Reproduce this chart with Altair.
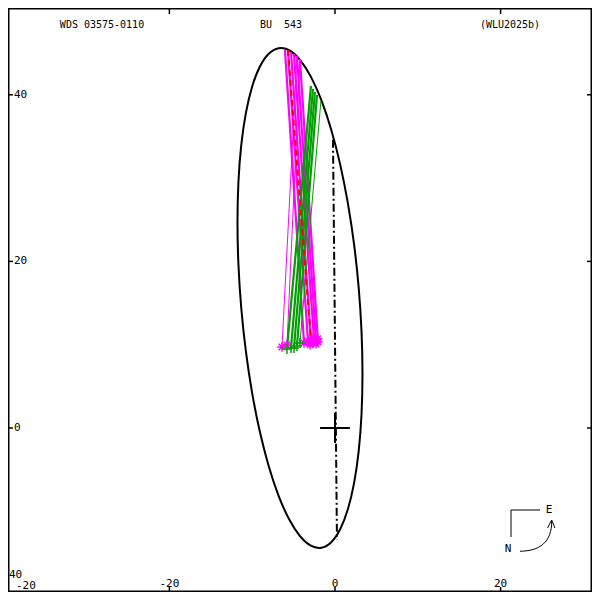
import altair as alt
import pandas as pd

# ---- data (data units) ----
# apparent orbit, points traced around the ellipse
orbit_x = [3.321, 3.206, 2.866, 2.310, 1.555, 0.625, -0.453, -1.646, -2.917, -4.227,
           -5.537, -6.808, -8.001, -9.079, -10.009, -10.764, -11.320, -11.660, -11.775,
           -11.660, -11.320, -10.764, -10.009, -9.079, -8.001, -6.808, -5.537, -4.227,
           -2.917, -1.646, -0.453, 0.625, 1.555, 2.310, 2.866, 3.206]
orbit_y = [6.482, 11.584, 16.810, 21.999, 26.996, 31.644, 35.804, 39.352, 42.179, 44.198,
           45.348, 45.594, 44.928, 43.373, 40.975, 37.803, 33.958, 29.556, 24.730,
           19.628, 14.402, 9.213, 4.216, -0.432, -4.592, -8.140, -10.967, -12.986,
           -14.136, -14.382, -13.716, -12.161, -9.763, -6.591, -2.746, 1.656]

node_x = [-0.24, 0.24]
node_y = [34.6, -13.45]

# O-C segments: predicted (x1, y1) -> observed (x2, y2)
mag_x1 = [-6.04, -5.68, -5.31, -4.95, -4.59, -4.23]
mag_y1 = [45.38, 45.26, 45.14, 44.90, 44.66, 44.30]
mag_x2 = [-3.74, -3.26, -2.90, -2.54, -2.29, -2.05]
mag_y2 = [10.20, 10.44, 10.56, 10.68, 10.44, 10.32]

magthin_x1 = [-4.59, -4.23]
magthin_y1 = [44.54, 44.18]
magthin_x2 = [-6.40, -5.80]
magthin_y2 = [9.72, 9.96]

grn_x1 = [-2.90, -2.66, -2.42, -2.17]
grn_y1 = [41.06, 40.70, 40.34, 39.98]
grn_x2 = [-5.80, -5.31, -4.95, -4.59]
grn_y2 = [9.48, 9.60, 9.60, 9.84]

grnthin_x1 = [-1.69]
grnthin_y1 = [39.38]
grnthin_x2 = [-4.23]
grnthin_y2 = [10.20]

red_x1 = [-5.68]
red_y1 = [45.38]
red_x2 = [-2.90]
red_y2 = [10.56]

extra_mag_x = [-2.78, -2.30, -3.00, -2.60, -2.10]
extra_mag_y = [10.80, 10.10, 10.00, 10.30, 10.70]

xtick_vals = [-20, 0, 20]
ytick_vals = [0, 20, 40]

XDOM = [-39.49, 31.04]
YDOM = [-19.69, 50.42]
W = H = 584
FONT = "DejaVu Sans Mono"

xs = alt.Scale(domain=XDOM, nice=False, zero=False)
ys = alt.Scale(domain=YDOM, nice=False, zero=False)


def seg_df(x1, y1, x2, y2):
    return pd.DataFrame({"x": x1, "y": y1, "x2": x2, "y2": y2})


def seg_layer(df, color, width, dash=None):
    kw = dict(color=color, strokeWidth=width)
    if dash:
        kw["strokeDash"] = dash
    return alt.Chart(df).mark_rule(**kw).encode(
        x=alt.X("x:Q", scale=xs, axis=None),
        y=alt.Y("y:Q", scale=ys, axis=None),
        x2="x2:Q", y2="y2:Q")


orbit_df = pd.DataFrame({"x": orbit_x, "y": orbit_y, "i": list(range(len(orbit_x)))})
orbit = alt.Chart(orbit_df).mark_line(color="black", strokeWidth=2,
                                       interpolate="cardinal-closed").encode(
    x=alt.X("x:Q", scale=xs, axis=None),
    y=alt.Y("y:Q", scale=ys, axis=None),
    order="i:Q")

node = alt.Chart(pd.DataFrame({"x": [node_x[0]], "y": [node_y[0]],
                               "x2": [node_x[1]], "y2": [node_y[1]]})).mark_rule(
    color="black", strokeWidth=2, strokeDash=[8, 3, 2, 3]).encode(
    x=alt.X("x:Q", scale=xs, axis=None), y=alt.Y("y:Q", scale=ys, axis=None),
    x2="x2:Q", y2="y2:Q")

cross = alt.Chart(pd.DataFrame({"x": [-1.8, 0.0], "y": [0.0, -1.8],
                                "x2": [1.8, 0.0], "y2": [0.0, 1.8]})).mark_rule(
    color="black", strokeWidth=2).encode(
    x=alt.X("x:Q", scale=xs, axis=None), y=alt.Y("y:Q", scale=ys, axis=None),
    x2="x2:Q", y2="y2:Q")

MAG = "#ff00ff"
GRN = "#00a000"
RED = "#ff0000"

mag = seg_layer(seg_df(mag_x1, mag_y1, mag_x2, mag_y2), MAG, 2.2)
magthin = seg_layer(seg_df(magthin_x1, magthin_y1, magthin_x2, magthin_y2), MAG, 1)
grn = seg_layer(seg_df(grn_x1, grn_y1, grn_x2, grn_y2), GRN, 2.2)
grnthin = seg_layer(seg_df(grnthin_x1, grnthin_y1, grnthin_x2, grnthin_y2), GRN, 1)
red = seg_layer(seg_df(red_x1, red_y1, red_x2, red_y2), RED, 2, dash=[6, 4])

ASTER = "M-1,0L1,0M0,-1L0,1M-0.7,-0.7L0.7,0.7M-0.7,0.7L0.7,-0.7"
PLUS = "M-1,0L1,0M0,-1L0,1"

mag_pts = pd.DataFrame({"x": mag_x2 + magthin_x2 + extra_mag_x,
                        "y": mag_y2 + magthin_y2 + extra_mag_y})
grn_pts = pd.DataFrame({"x": grn_x2 + grnthin_x2, "y": grn_y2 + grnthin_y2})

magm = alt.Chart(mag_pts).mark_point(shape=ASTER, filled=False, stroke=MAG,
                                     strokeWidth=1.5, size=90, opacity=1).encode(
    x=alt.X("x:Q", scale=xs, axis=None), y=alt.Y("y:Q", scale=ys, axis=None))
grnm = alt.Chart(grn_pts).mark_point(shape=PLUS, filled=False, stroke=GRN,
                                     strokeWidth=1.5, size=100, opacity=1).encode(
    x=alt.X("x:Q", scale=xs, axis=None), y=alt.Y("y:Q", scale=ys, axis=None))

# ticks (inside the frame)
xt = pd.DataFrame({"v": xtick_vals, "t": [str(v) for v in xtick_vals]})
yt = pd.DataFrame({"v": ytick_vals, "t": [str(v) for v in ytick_vals]})

top_ticks = alt.Chart(xt).mark_rule(color="black", strokeWidth=1.5).encode(
    x=alt.X("v:Q", scale=xs, axis=None), y=alt.value(0), y2=alt.value(6))
bot_ticks = alt.Chart(xt).mark_rule(color="black", strokeWidth=1.5).encode(
    x=alt.X("v:Q", scale=xs, axis=None), y=alt.value(W - 5), y2=alt.value(W))
left_ticks = alt.Chart(yt).mark_rule(color="black", strokeWidth=1.5).encode(
    y=alt.Y("v:Q", scale=ys, axis=None), x=alt.value(0), x2=alt.value(5))
right_ticks = alt.Chart(yt).mark_rule(color="black", strokeWidth=1.5).encode(
    y=alt.Y("v:Q", scale=ys, axis=None), x=alt.value(W - 5), x2=alt.value(W))

xlab = alt.Chart(xt).mark_text(font=FONT, fontSize=11, baseline="bottom",
                               align="center", color="black").encode(
    x=alt.X("v:Q", scale=xs, axis=None), y=alt.value(W - 3), text="t:N")
ylab = alt.Chart(yt).mark_text(font=FONT, fontSize=11, baseline="middle",
                               align="left", color="black").encode(
    y=alt.Y("v:Q", scale=ys, axis=None), x=alt.value(6), text="t:N")

corner = alt.Chart(pd.DataFrame({"t": ["40", "-20"], "px": [1, 8], "py": [572, 583]})).mark_text(
    font=FONT, fontSize=11, baseline="bottom", align="left", color="black").encode(
    x=alt.X("px:Q", scale=None), y=alt.Y("py:Q", scale=None), text="t:N")

titles = alt.Chart(pd.DataFrame({"t": ["WDS 03575-0110", "BU\u00a0\u00a0543", "(WLU2025b)"],
                                 "px": [94, 273, 502], "py": [17, 17, 17]})).mark_text(
    font=FONT, fontSize=10, baseline="middle", align="center", color="black").encode(
    x=alt.X("px:Q", scale=None), y=alt.Y("py:Q", scale=None), text="t:N")

# compass
comp_h = alt.Chart(pd.DataFrame({"a": [0]})).mark_rule(color="black", strokeWidth=1).encode(
    x=alt.value(503), x2=alt.value(532), y=alt.value(502))
comp_v = alt.Chart(pd.DataFrame({"a": [0]})).mark_rule(color="black", strokeWidth=1).encode(
    x=alt.value(503), y=alt.value(502), y2=alt.value(529))
ARC = "M-1,0.95C0.2,0.95 1,0.4 0.98,-0.95M0.72,-0.5L0.98,-1L1.18,-0.5"
comp_arc = alt.Chart(pd.DataFrame({"a": [0]})).mark_point(
    shape=ARC, filled=False, stroke="black", strokeWidth=1, size=1024, opacity=1).encode(
    x=alt.value(528), y=alt.value(528))
comp_txt = alt.Chart(pd.DataFrame({"t": ["E", "N"], "px": [541, 500], "py": [502, 541]})).mark_text(
    font=FONT, fontSize=11, baseline="middle", align="center", color="black").encode(
    x=alt.X("px:Q", scale=None), y=alt.Y("py:Q", scale=None), text="t:N")

chart = alt.layer(
    orbit, node, cross, mag, magthin, grn, grnthin, red, magm, grnm,
    top_ticks, bot_ticks, left_ticks, right_ticks, xlab, ylab, corner, titles,
    comp_h, comp_v, comp_arc, comp_txt
).properties(
    width=W, height=H, padding=0, autosize="none"
).configure_view(
    stroke="black", strokeWidth=3
)

chart.save("out.html", embed_options={"renderer": "svg", "actions": False})
